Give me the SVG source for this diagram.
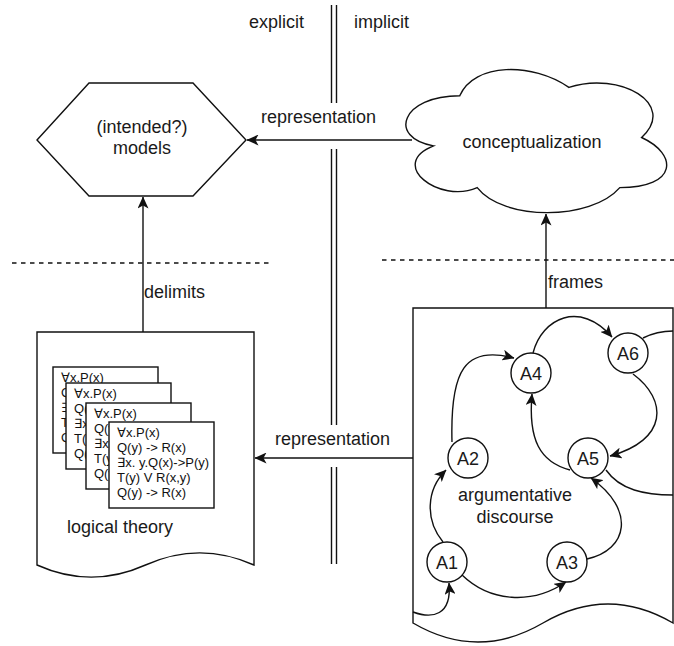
<svg xmlns="http://www.w3.org/2000/svg" width="674" height="646" viewBox="0 0 674 646">
<style>
.ln{fill:none;stroke:#111;stroke-width:1.4}
.sh{fill:#fff;stroke:#111;stroke-width:1.4}
.dash{fill:none;stroke:#111;stroke-width:1.3;stroke-dasharray:4.5 4.5}
.t{font-family:"Liberation Sans",Arial,Helvetica,sans-serif;font-size:18px;fill:#1a1a1a}
.c{text-anchor:middle}
.s{font-family:"Liberation Sans","DejaVu Sans",Arial,sans-serif;font-size:13px;fill:#111}
</style>
<defs>
<marker id="ar" markerUnits="userSpaceOnUse" markerWidth="12" markerHeight="11" refX="11.5" refY="5.5" orient="auto">
<path d="M0,0 L12,5.5 L0,11 L3,5.5 Z" fill="#111"/>
</marker>
<g id="card">
<text class="s" x="8" y="14.5">∀x.P(x)</text>
<text class="s" x="8" y="29.5">Q(y) -&gt; R(x)</text>
<text class="s" x="8" y="44.5">∃x. y.Q(x)-&gt;P(y)</text>
<text class="s" x="8" y="59.5">T(y) V R(x,y)</text>
<text class="s" x="8" y="74.5">Q(y) -&gt; R(x)</text>
</g>
</defs>
<rect width="674" height="646" fill="#fff"/>

<g id="divider">
<path class="ln" d="M331.5,5 V103 M336.5,5 V103 M331.5,149 V425 M336.5,149 V425 M331.5,467 V564 M336.5,467 V564"/>
<text class="t" x="249" y="28">explicit</text>
<text class="t" x="354" y="28">implicit</text>
</g>

<g id="separators">
<path class="dash" d="M12,263 H269"/>
<path class="dash" d="M382,260 H674"/>
</g>

<g id="models">
<polygon class="sh" points="37,140 89,83 193,83 246,140 193,196 89,196"/>
<text class="t c" x="142" y="133">(intended?)</text>
<text class="t c" x="142" y="154">models</text>
</g>

<g id="conceptualization">
<path class="sh" d="M459.75,95.75 C401.55,95.75 387,137.5 433.56,145.85 C387,164.21 439.38,204.29 477.21,187.6 C503.4,221 590.7,221 619.8,187.6 C678,187.6 678,154.2 641.63,137.5 C678,104.1 619.8,70.7 568.88,87.4 C532.5,62.35 474.3,62.35 459.75,95.75 Z"/>
<text class="t c" x="532" y="148">conceptualization</text>
</g>

<g id="logical-theory">
<path class="sh" d="M37,332 H254 V565 Q199.75,540.7 145.5,565 Q91.25,589.3 37,565 Z"/>
<g id="card1"><rect class="sh" x="53" y="367" width="105" height="86"/><use href="#card" x="53" y="367"/></g>
<g id="card2"><rect class="sh" x="66" y="383" width="105" height="86"/><use href="#card" x="66" y="383"/></g>
<g id="card3"><rect class="sh" x="86" y="403" width="105" height="86"/><use href="#card" x="86" y="403"/></g>
<g id="card4"><rect class="sh" x="109" y="422" width="105" height="86"/><use href="#card" x="109" y="422"/></g>
<text class="t" x="67" y="533">logical theory</text>
</g>

<g id="argumentative-discourse">
<path class="sh" d="M413,308 H673 V623 Q608,585 543,623 Q478,661 413,623 Z"/>
<text class="t c" x="515" y="501">argumentative</text>
<text class="t c" x="515" y="523">discourse</text>
</g>

<g id="connectors">
<path class="ln" d="M412,140 H247" marker-end="url(#ar)"/>
<text class="t" x="261" y="123">representation</text>
<path class="ln" d="M143,332 V197" marker-end="url(#ar)"/>
<text class="t" x="144" y="298">delimits</text>
<path class="ln" d="M546,308 V214" marker-end="url(#ar)"/>
<text class="t" x="548" y="288">frames</text>
<path class="ln" d="M413,458 H255" marker-end="url(#ar)"/>
<text class="t" x="275" y="445">representation</text>

<path class="ln" d="M452,442 C450,370 465,345 514,358" marker-end="url(#ar)"/>
<path class="ln" d="M533,353 C542,318 580,300 612,337" marker-end="url(#ar)"/>
<path class="ln" d="M633,374 C668,400 668,440 610,456" marker-end="url(#ar)"/>
<path class="ln" d="M570,470 C540,462 528,440 532,394" marker-end="url(#ar)"/>
<path class="ln" d="M643,338 C655,332 664,331 673,331"/>
<path class="ln" d="M606,470 C620,490 645,495 673,495"/>
<path class="ln" d="M587,559 C628,550 636,510 591,478" marker-end="url(#ar)"/>
<path class="ln" d="M443,542 C425,520 426,490 446,470" marker-end="url(#ar)"/>
<path class="ln" d="M462,575 C490,602 532,605 566,582" marker-end="url(#ar)"/>
<path class="ln" d="M413,612 C432,619 452,616 449,583" marker-end="url(#ar)"/>
</g>

<g id="A1"><circle class="sh" cx="447" cy="562" r="20"/><text class="t c" x="447" y="568.5">A1</text></g>
<g id="A2"><circle class="sh" cx="468" cy="458" r="20"/><text class="t c" x="468" y="464.5">A2</text></g>
<g id="A3"><circle class="sh" cx="567" cy="562" r="20"/><text class="t c" x="567" y="568.5">A3</text></g>
<g id="A4"><circle class="sh" cx="531" cy="373" r="20"/><text class="t c" x="531" y="379.5">A4</text></g>
<g id="A5"><circle class="sh" cx="588" cy="458" r="20"/><text class="t c" x="588" y="464.5">A5</text></g>
<g id="A6"><circle class="sh" cx="628" cy="353" r="20"/><text class="t c" x="628" y="359.5">A6</text></g>
</svg>
